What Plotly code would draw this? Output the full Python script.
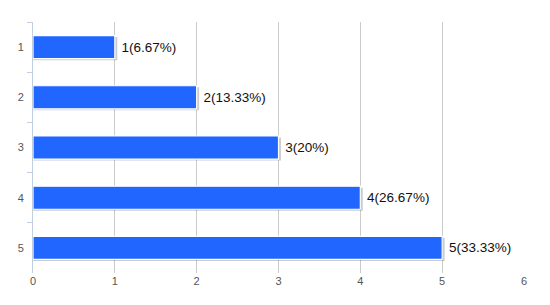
import plotly.graph_objects as go

categories = ["1", "2", "3", "4", "5"]
values = [1, 2, 3, 4, 5]
percent_labels = ["1(6.67%)", "2(13.33%)", "3(20%)", "4(26.67%)", "5(33.33%)"]
x_ticks = [0, 1, 2, 3, 4, 5, 6]

fig = go.Figure()
# shadow
fig.add_trace(go.Bar(
    y=categories, x=[v + 0.03 for v in values], orientation="h",
    width=0.46, offset=-0.2,
    marker=dict(color="rgba(0,0,0,0.2)", line=dict(width=0)),
    hoverinfo="skip", showlegend=False,
))
fig.add_trace(go.Bar(
    y=categories, x=values, orientation="h",
    width=0.46, offset=-0.23,
    marker=dict(color="#2166ff", line=dict(color="white", width=1.2)),
    text=percent_labels, texttemplate=" %{text}", textposition="outside",
    textfont=dict(family="Liberation Sans, Arial", size=13.5, color="#111"),
    cliponaxis=False, showlegend=False,
))

fig.update_layout(
    width=550, height=305,
    margin=dict(l=33, r=26, t=22, b=32),
    barmode="overlay",
    plot_bgcolor="white", paper_bgcolor="white",
    uniformtext=dict(mode=False),
    xaxis=dict(
        range=[0, 6], tickvals=x_ticks, showgrid=True, gridcolor="#cccccc",
        gridwidth=1, zeroline=False, showline=False, ticks="",
        tickfont=dict(family="Liberation Sans, Arial", size=11, color="#555"),
        fixedrange=True,
    ),
    yaxis=dict(
        type="category", categoryarray=categories, autorange="reversed",
        showgrid=False, showline=True, linecolor="#c0d0e0", linewidth=1,
        ticks="outside", tickson="boundaries", ticklen=5, tickcolor="#c0d0e0",
        tickfont=dict(family="Liberation Sans, Arial", size=11, color="#555"),
        ticklabelstandoff=6,
    ),
)

fig.write_html("out.html")
